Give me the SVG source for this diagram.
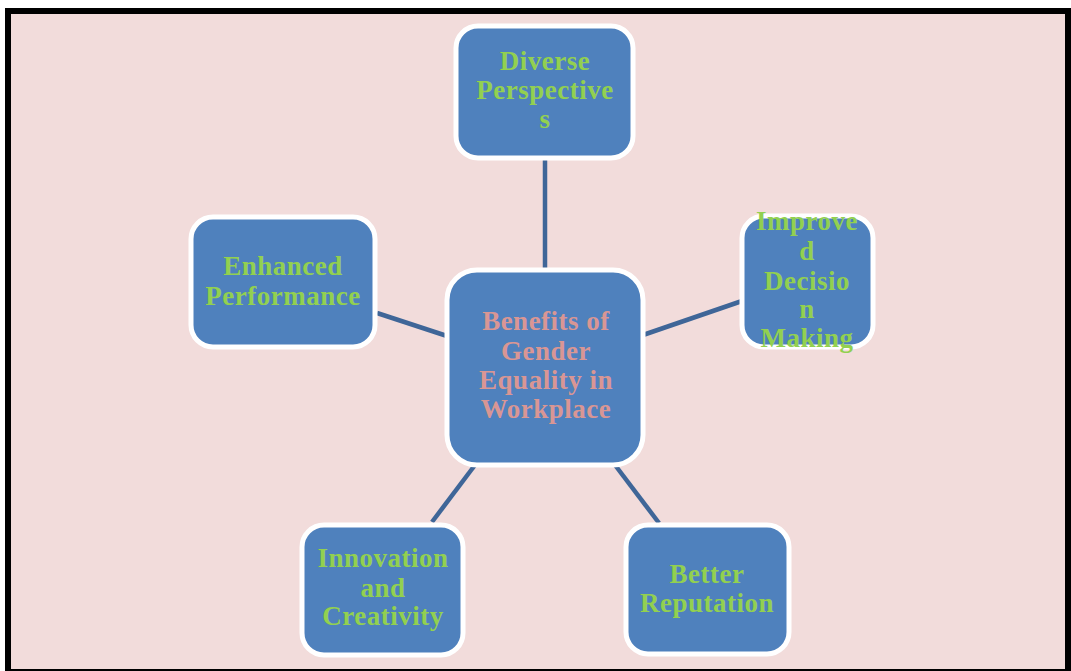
<svg xmlns="http://www.w3.org/2000/svg" width="1071" height="671" viewBox="0 0 1071 671">
<style>
.node{fill:#4F81BD;stroke:#FFFFFF;stroke-width:5}
.t{font-family:"Liberation Serif",serif;font-weight:bold;font-size:27px;letter-spacing:0.5px;text-anchor:middle;fill:#92D050}
.c{fill:#D99694}
.link{stroke:#3F6698;stroke-width:4.5;fill:none}
</style>
<rect x="8" y="11" width="1060" height="661" fill="#F2DCDB" stroke="#000000" stroke-width="6"/>
<g id="connectors">
<line class="link" x1="545" y1="158" x2="545" y2="270"/>
<line class="link" x1="377" y1="313" x2="447" y2="336"/>
<line class="link" x1="643" y1="335" x2="742" y2="301"/>
<line class="link" x1="475" y1="465" x2="432" y2="522"/>
<line class="link" x1="615" y1="465" x2="659" y2="523"/>
</g>
<g id="center">
<rect class="node" x="447" y="270" width="196" height="195" rx="30"/>
<text class="t c" x="546"><tspan x="546" y="330">Benefits of</tspan><tspan x="546" y="360">Gender</tspan><tspan x="546" y="389">Equality in</tspan><tspan x="546" y="418">Workplace</tspan></text>
</g>
<g id="diverse">
<rect class="node" x="456" y="26" width="177" height="132" rx="22"/>
<text class="t" x="545"><tspan x="545" y="70">Diverse</tspan><tspan x="545" y="99">Perspective</tspan><tspan x="545" y="128">s</tspan></text>
</g>
<g id="improved">
<rect class="node" x="742" y="216" width="131" height="131" rx="22"/>
<text class="t" x="807"><tspan x="807" y="230">Improve</tspan><tspan x="807" y="260">d</tspan><tspan x="807" y="290">Decisio</tspan><tspan x="807" y="318">n</tspan><tspan x="807" y="347">Making</tspan></text>
</g>
<g id="enhanced">
<rect class="node" x="191" y="217" width="184" height="130" rx="22"/>
<text class="t" x="283"><tspan x="283" y="275">Enhanced</tspan><tspan x="283" y="305">Performance</tspan></text>
</g>
<g id="innovation">
<rect class="node" x="302" y="525" width="161" height="130" rx="22"/>
<text class="t" x="383"><tspan x="383" y="567">Innovation</tspan><tspan x="383" y="597">and</tspan><tspan x="383" y="625">Creativity</tspan></text>
</g>
<g id="better">
<rect class="node" x="626" y="525" width="163" height="129" rx="22"/>
<text class="t" x="707"><tspan x="707" y="583">Better</tspan><tspan x="707" y="612">Reputation</tspan></text>
</g>
</svg>
